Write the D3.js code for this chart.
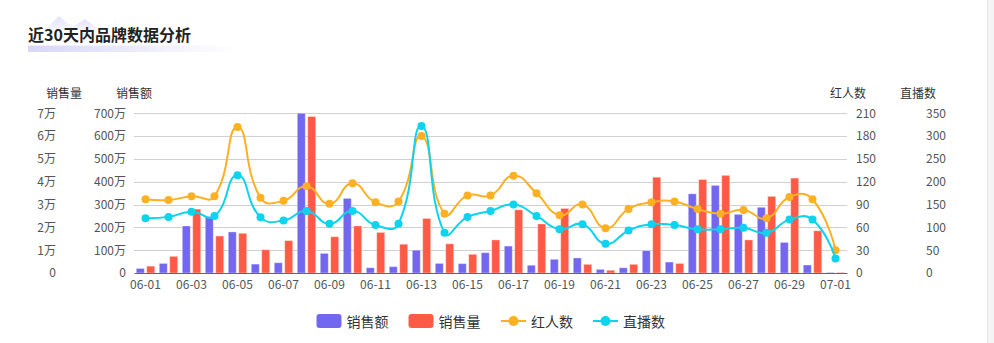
<!DOCTYPE html>
<html>
<head>
<meta charset="utf-8">
<script src="https://cdn.jsdelivr.net/npm/d3@7/dist/d3.min.js"></script>
<style>
  html, body { margin: 0; padding: 0; background: #fff; }
  svg { display: block; font-family: "Noto Sans CJK SC", "Noto Sans", sans-serif; }
</style>
</head>
<body>
<svg id="chart" width="994" height="343"></svg>
<script>
// Daily brand figures, 06-01 .. 07-01
const dates = ["06-01","06-02","06-03","06-04","06-05","06-06","06-07","06-08","06-09","06-10",
  "06-11","06-12","06-13","06-14","06-15","06-16","06-17","06-18","06-19","06-20",
  "06-21","06-22","06-23","06-24","06-25","06-26","06-27","06-28","06-29","06-30","07-01"];

// 销售额 (元)
const salesAmount = [200000,420000,2060000,2470000,1800000,390000,450000,7000000,860000,3270000,
  230000,280000,1000000,420000,410000,890000,1180000,340000,600000,660000,
  160000,230000,980000,480000,3470000,3840000,2570000,2880000,1340000,350000,20000];

// 销售量 (件)
const salesVolume = [3000,7300,28000,16200,17400,10200,14200,68600,15900,20600,
  17800,12600,23900,12800,8200,14500,27700,21500,28300,3800,
  1200,3800,42000,4200,41000,42800,14500,33600,41600,18500,200];

// 红人数
const influencers = [97,96,101,101,192,99,95,114,91,118,
  93,94,180,78,102,102,128,105,76,90,
  59,84,93,94,84,78,83,72,100,97,30];

// 直播数
const liveStreams = [120,123,134,125,214,122,115,136,108,136,
  105,108,322,88,123,136,150,125,96,107,
  64,93,107,105,96,96,99,88,117,117,32];

const amountTicks = [0,1e6,2e6,3e6,4e6,5e6,6e6,7e6];
const volumeTicks = [0,1e4,2e4,3e4,4e4,5e4,6e4,7e4];
const influencerTicks = [0,30,60,90,120,150,180,210];
const liveTicks = [0,50,100,150,200,250,300,350];

const seriesNames = ["销售额","销售量","红人数","直播数"];
const colors = { amount: "#7367F0", volume: "#FF5A45", infl: "#FDB022", live: "#0DD3EE" };

const svg = d3.select("#chart");
const W = 994, H = 343;
const plot = { left: 134, right: 847, top: 113.3, bottom: 273 };

// scrollbar-like strip on the far right
svg.append("rect").attr("x", 987).attr("y", 0).attr("width", 7).attr("height", H).attr("fill", "#f4f4f4");
svg.append("line").attr("x1", 987.5).attr("x2", 987.5).attr("y1", 0).attr("y2", H).attr("stroke", "#e6e6e6");

// title decoration
const defs = svg.append("defs");
const ug = defs.append("linearGradient").attr("id", "underline").attr("x1", 0).attr("x2", 1);
ug.append("stop").attr("offset", 0).attr("stop-color", "#D9D6F8");
ug.append("stop").attr("offset", 1).attr("stop-color", "#ffffff");
const mg = defs.append("linearGradient").attr("id", "mount").attr("x1", 0).attr("x2", 0).attr("y1", 0).attr("y2", 1);
mg.append("stop").attr("offset", 0).attr("stop-color", "#E4E2FA");
mg.append("stop").attr("offset", 1).attr("stop-color", "#F6F5FE");
svg.append("path").attr("d", "M44,30 L59,16 L75,30 Z").attr("fill", "url(#mount)");
svg.append("path").attr("d", "M68,30 L85,19 L100,30 Z").attr("fill", "url(#mount)");
svg.append("rect").attr("x", 28).attr("y", 45.5).attr("width", 210).attr("height", 6.5).attr("fill", "url(#underline)");
svg.append("text").attr("x", 28).attr("y", 41).attr("font-size", 16).attr("font-weight", "bold")
  .attr("fill", "#222").text("近30天内品牌数据分析");

// scales
const x = d3.scaleBand().domain(dates).range([plot.left, plot.right]);
const yAmount = d3.scaleLinear().domain([0, 7e6]).range([plot.bottom, plot.top]);
const yVolume = d3.scaleLinear().domain([0, 7e4]).range([plot.bottom, plot.top]);
const yInfl = d3.scaleLinear().domain([0, 210]).range([plot.bottom, plot.top]);
const yLive = d3.scaleLinear().domain([0, 350]).range([plot.bottom, plot.top]);

// grid lines
svg.append("g").selectAll("line").data(amountTicks.slice(1)).join("line")
  .attr("x1", plot.left).attr("x2", plot.right)
  .attr("y1", d => Math.round(yAmount(d)) + 0.5).attr("y2", d => Math.round(yAmount(d)) + 0.5)
  .attr("stroke", "#d0d0d0").attr("stroke-width", 1);

// axes
function fmtWan(v) { return v === 0 ? "0" : (v / 1e4) + "万"; }
function styleAxis(g) {
  g.select(".domain").remove();
  g.selectAll(".tick line").remove();
  g.selectAll(".tick text").attr("fill", "#555").attr("font-size", 12)
    .attr("font-family", "\"Noto Sans CJK SC\", sans-serif");
}
svg.append("g").attr("transform", `translate(${plot.left},0)`)
  .call(d3.axisLeft(yAmount).tickValues(amountTicks).tickFormat(fmtWan).tickSize(0).tickPadding(8))
  .call(styleAxis);
svg.append("g").attr("transform", `translate(${plot.left - 70},0)`)
  .call(d3.axisLeft(yVolume).tickValues(volumeTicks).tickFormat(fmtWan).tickSize(0).tickPadding(8))
  .call(styleAxis);
svg.append("g").attr("transform", `translate(${plot.right},0)`)
  .call(d3.axisRight(yInfl).tickValues(influencerTicks).tickSize(0).tickPadding(9))
  .call(styleAxis);
svg.append("g").attr("transform", `translate(${plot.right + 70},0)`)
  .call(d3.axisRight(yLive).tickValues(liveTicks).tickSize(0).tickPadding(9))
  .call(styleAxis);

// axis names
const names = [["销售量", plot.left - 70], ["销售额", plot.left], ["红人数", plot.right + 1], ["直播数", plot.right + 71]];
svg.append("g").selectAll("text").data(names).join("text")
  .attr("x", d => d[0 + 1]).attr("y", 92).attr("text-anchor", "middle").attr("dominant-baseline", "central")
  .attr("font-size", 12).attr("fill", "#333").text(d => d[0]);

// bars
const bw = 8, gap = 2.4;
const bars = svg.append("g");
bars.selectAll("rect.amt").data(dates).join("rect").attr("class", "amt")
  .attr("x", d => x(d) + x.bandwidth() / 2 - bw - gap / 2)
  .attr("y", (d, i) => yAmount(salesAmount[i]))
  .attr("width", bw)
  .attr("height", (d, i) => plot.bottom - yAmount(salesAmount[i]))
  .attr("fill", colors.amount).attr("stroke", "rgba(255,255,255,0.35)").attr("stroke-width", 1);
bars.selectAll("rect.vol").data(dates).join("rect").attr("class", "vol")
  .attr("x", d => x(d) + x.bandwidth() / 2 + gap / 2)
  .attr("y", (d, i) => yVolume(salesVolume[i]))
  .attr("width", bw)
  .attr("height", (d, i) => plot.bottom - yVolume(salesVolume[i]))
  .attr("fill", colors.volume).attr("stroke", "rgba(255,255,255,0.35)").attr("stroke-width", 1);

// x axis
const xAxis = svg.append("g").attr("transform", `translate(0,${plot.bottom})`)
  .call(d3.axisBottom(x).tickValues(dates.filter((d, i) => i % 2 === 0)).tickSize(0).tickPadding(7));
xAxis.select(".domain").attr("stroke", "#666").attr("stroke-width", 1.2);
xAxis.selectAll(".tick text").attr("fill", "#555").attr("font-size", 12)
  .attr("font-family", "\"Noto Sans CJK SC\", sans-serif");

// smooth curve: bezier with control points along the neighbour chord, split by segment lengths
function SmoothCurve(context) { this._context = context; }
SmoothCurve.prototype = {
  areaStart() {}, areaEnd() {},
  lineStart() { this._pts = []; },
  point(px, py) { this._pts.push([+px, +py]); },
  lineEnd() {
    const p = this._pts, ctx = this._context, s = 0.5;
    if (!p.length) return;
    ctx.moveTo(p[0][0], p[0][1]);
    let cx = p[0][0], cy = p[0][1];
    for (let i = 1; i < p.length; i++) {
      const [xx, yy] = p[i];
      let ncx = xx, ncy = yy, vx = 0, vy = 0, r = 0.5;
      if (i < p.length - 1) {
        const [px0, py0] = p[i - 1], [nx, ny] = p[i + 1];
        vx = nx - px0; vy = ny - py0;
        const l0 = Math.hypot(xx - px0, yy - py0), l1 = Math.hypot(nx - xx, ny - yy);
        r = l1 / (l0 + l1);
        ncx = xx - vx * s * (1 - r);
        ncy = yy - vy * s * (1 - r);
      }
      ctx.bezierCurveTo(cx, cy, ncx, ncy, xx, yy);
      cx = xx + vx * s * r;
      cy = yy + vy * s * r;
    }
  }
};
const smooth = ctx => new SmoothCurve(ctx);

function drawLine(values, scale, color) {
  const g = svg.append("g");
  const line = d3.line().x((d, i) => x(dates[i]) + x.bandwidth() / 2).y(d => scale(d)).curve(smooth);
  g.append("path").attr("d", line(values)).attr("fill", "none").attr("stroke", color).attr("stroke-width", 2);
  g.selectAll("circle").data(values).join("circle")
    .attr("cx", (d, i) => x(dates[i]) + x.bandwidth() / 2).attr("cy", d => scale(d))
    .attr("r", 4).attr("fill", color);
}
drawLine(influencers, yInfl, colors.infl);
drawLine(liveStreams, yLive, colors.live);

// legend
const legend = svg.append("g");
const ly = 321;
const items = [
  { name: seriesNames[0], type: "bar", color: colors.amount, x: 316.5 },
  { name: seriesNames[1], type: "bar", color: colors.volume, x: 408.5 },
  { name: seriesNames[2], type: "line", color: colors.infl, x: 501 },
  { name: seriesNames[3], type: "line", color: colors.live, x: 593 }
];
items.forEach(it => {
  if (it.type === "bar") {
    legend.append("rect").attr("x", it.x).attr("y", ly - 7).attr("width", 25).attr("height", 14)
      .attr("rx", 3).attr("fill", it.color);
  } else {
    legend.append("line").attr("x1", it.x).attr("x2", it.x + 25).attr("y1", ly).attr("y2", ly)
      .attr("stroke", it.color).attr("stroke-width", 2);
    legend.append("circle").attr("cx", it.x + 12.5).attr("cy", ly).attr("r", 5).attr("fill", it.color);
  }
  legend.append("text").attr("x", it.x + 30).attr("y", ly).attr("dominant-baseline", "central")
    .attr("font-size", 14).attr("fill", "#333").text(it.name);
});
</script>
</body>
</html>
